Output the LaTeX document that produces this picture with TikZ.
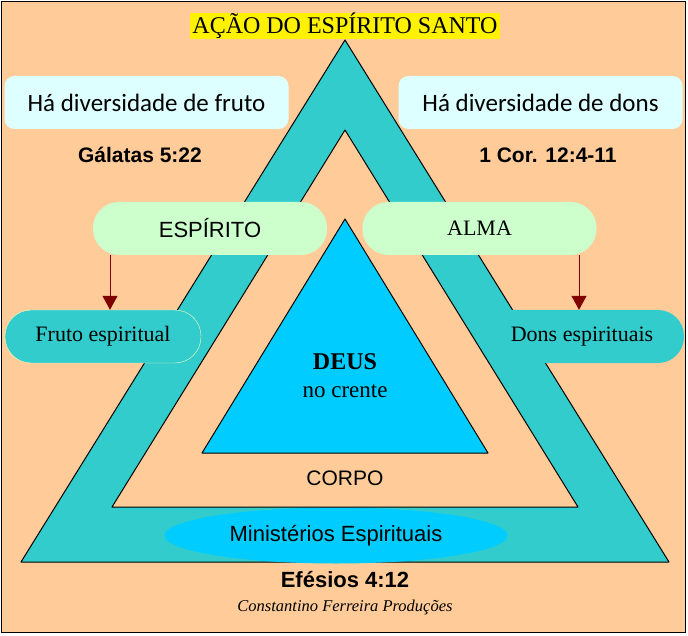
\documentclass[tikz,border=0pt]{standalone}
\usepackage{fontspec}
\setmainfont{Liberation Serif}
\setsansfont{Liberation Sans}
\newfontfamily\humanist{Carlito}
\usetikzlibrary{positioning,arrows.meta,shapes.geometric}
\definecolor{pessego}{HTML}{FFCC99}
\definecolor{turquesa}{HTML}{33CCCC}
\definecolor{celeste}{HTML}{00CCFF}
\definecolor{gelo}{HTML}{DDFFFF}
\definecolor{menta}{HTML}{CCFFCC}
\definecolor{vinho}{HTML}{800000}
\tikzset{
    caixa/.style={rectangle, rounded corners=10pt, fill=gelo, minimum width=284pt, minimum height=53pt, inner sep=0pt, font=\humanist\fontsize{25}{29}\selectfont},
    pilula/.style={rectangle, rounded corners=26pt, minimum height=53pt, inner sep=0pt},
    verde/.style={pilula, fill=menta, minimum width=234pt},
    dom/.style={pilula, fill=turquesa, font=\fontsize{22}{26}\selectfont},
    ref/.style={inner sep=0pt, font=\sffamily\bfseries\fontsize{21}{25}\selectfont},
    seta/.style={-{Triangle[length=14pt,width=15pt]}, line width=1pt, vinho},
    contorno/.style={draw=black, line width=1pt, line join=round},
}

\begin{document}
\begin{tikzpicture}
        [x=1pt, y=-1pt]
        \useasboundingbox (0,0) rectangle (688,636);

        % Background and frame
        \fill[white] (0,0) rectangle (688,636);
        \fill[pessego] (1.5,1.5) rectangle (685.5,632.5);
        \draw[line width=1.5pt] (1.5,1.5) rectangle (685.5,632.5);

        % Triangles
        \fill[turquesa, even odd rule] (345,40) -- (21,562) -- (669,562) -- cycle
            (345,130) -- (112,507) -- (578,507) -- cycle;
        \draw[contorno] (345,40) -- (21,562) -- (669,562) -- cycle;
        \node[ellipse, fill=celeste, minimum width=343pt, minimum height=56pt, inner sep=0pt,
            font=\sffamily\fontsize{22}{26}\selectfont] (ministerios) at (336,535.5) {Ministérios Espirituais};
        \draw[contorno] (345,130) -- (112,507) -- (578,507) -- cycle;
        \draw[contorno, fill=celeste] (345,219) -- (202,453) -- (488,453) -- cycle;

        % Title
        \node[fill=yellow, inner sep=0pt, inner xsep=2pt, font=\fontsize{24}{28}\selectfont] (titulo) at (345,26) {AÇÃO DO ESPÍRITO SANTO};

        % Boxes and references
        \node[caixa] (fruto) at (146.5,102.5) {Há diversidade de fruto};
        \node[caixa] (dons) at (540.5,102.5) {Há diversidade de dons};
        \node[ref] (galatas) at (140,155) {Gálatas 5:22};
        \node[ref] (corintios) at (548,155) {1 Cor. 12:4-11};

        % Spirit and soul
        \node[verde, font=\sffamily\fontsize{22}{26}\selectfont] (espirito) at (210,228.5) {ESPÍRITO};
        \node[verde, font=\fontsize{22}{26}\selectfont] (alma) at (479.5,228.5) {ALMA};
        \node[dom, draw=yellow!25, minimum width=196pt] (frutoesp) at (103,336.5) {Fruto espiritual};
        \node[dom, minimum width=204pt] (donsesp) at (582,336.5) {Dons espirituais};

        % Lines
        \draw[seta] ([xshift=7pt]frutoesp.north |- espirito.south) -- ([xshift=7pt]frutoesp.north);
        \draw[seta] ([xshift=-3pt]donsesp.north |- alma.south) -- ([xshift=-3pt]donsesp.north);

        % Inner texts
        \node[font=\bfseries\fontsize{24}{28}\selectfont] (deus) at (345,362) {DEUS};
        \node[font=\fontsize{23}{27}\selectfont, below=7pt of deus] (crente) {no crente};
        \node[font=\sffamily\fontsize{21}{25}\selectfont] (corpo) at (345,478) {CORPO};
        \node[ref, font=\sffamily\bfseries\fontsize{22}{26}\selectfont] (efesios) at (345,580) {Efésios 4:12};
        \node[font=\itshape\fontsize{16.5}{20}\selectfont, below=8pt of efesios] (autor) {Constantino Ferreira Produções};

    \end{tikzpicture}
\end{document}
